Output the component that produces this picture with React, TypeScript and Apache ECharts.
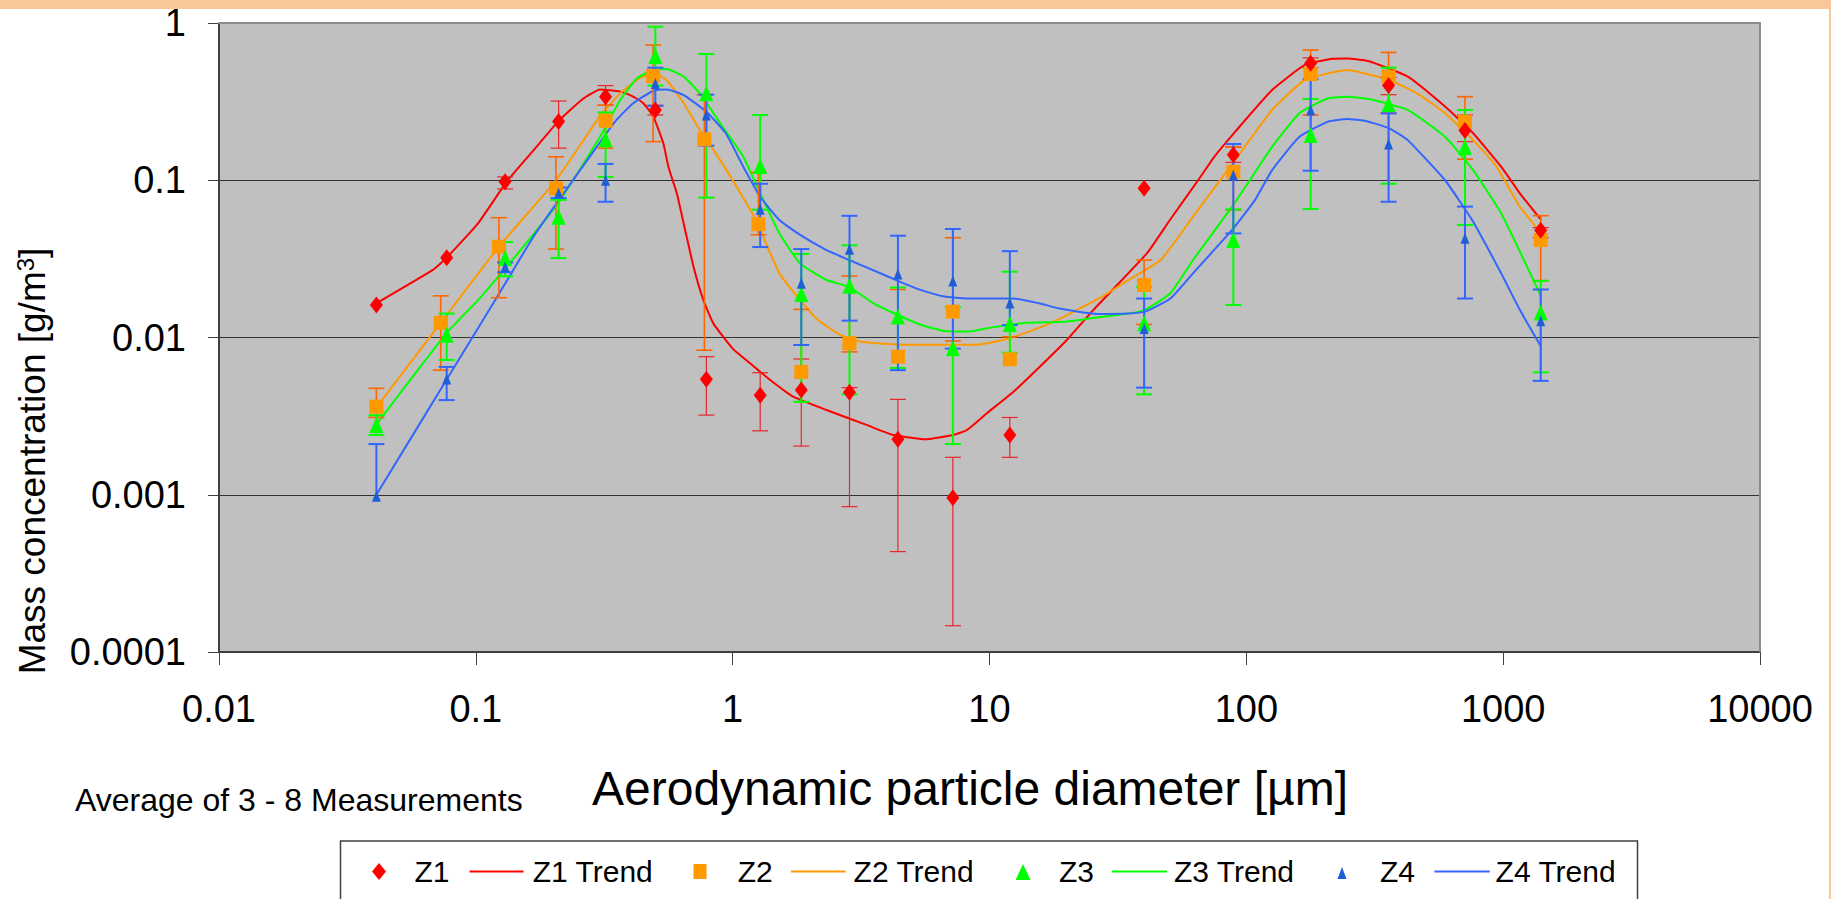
import React, { useEffect, useRef } from "react";
import * as echarts from "echarts";

const FONT = "'Liberation Sans', Arial, Helvetica, sans-serif";

// Tick labels
const xTickLabels = ["0.01", "0.1", "1", "10", "100", "1000", "10000"];
const yTickLabels = ["0.0001", "0.001", "0.01", "0.1", "1"];

// Aerodynamic particle diameter [µm] of the measurement classes
const diameters = [0.041, 0.077, 0.13, 0.21, 0.32, 0.5, 0.79, 1.28, 1.85, 2.85, 4.4, 7.2, 12, 40, 89, 178, 358, 710, 1400];
const z2Diameters = [0.041, 0.073, 0.123, 0.205, 0.32, 0.49, 0.776, 1.26, 1.85, 2.85, 4.4, 7.2, 12, 40, 89, 178, 358, 710, 1400];

// Mean mass concentration [g/m3] and error bar limits (null = not shown)
const z1Mean = [0.0161, 0.0322, 0.098, 0.236, 0.34, 0.28, 0.00542, 0.0043, 0.00464, 0.00448, 0.00225, 0.000957, 0.0024, 0.0889, 0.145, 0.554, 0.40, 0.207, 0.048];
const z1Low = [null, null, 0.088, 0.16, 0.30, 0.26, 0.00321, 0.00255, 0.00204, 0.00084, 0.000435, 0.000147, 0.00173, null, 0.13, 0.52, 0.35, 0.176, 0.043];
const z1High = [null, null, 0.105, 0.319, 0.40, 0.30, 0.00755, 0.00597, 0.0073, 0.0048, 0.00404, 0.00173, 0.0031, null, 0.163, 0.6, 0.45, 0.26, 0.05];

const z2Mean = [0.00363, 0.0124, 0.0378, 0.0888, 0.239, 0.46, 0.182, 0.0525, 0.00604, 0.0092, 0.00755, 0.0146, 0.00727, 0.0216, 0.113, 0.474, 0.456, 0.236, 0.0417];
const z2Low = [0.0031, 0.0062, 0.0179, 0.0365, 0.16, 0.176, 0.0083, 0.045, null, 0.0081, 0.0064, 0.0095, null, 0.0121, 0.0647, 0.26, 0.268, 0.136, 0.023];
const z2High = [0.00475, 0.0184, 0.0578, 0.141, 0.30, 0.724, 0.35, 0.112, 0.0151, 0.0246, 0.0202, 0.0431, 0.0101, 0.0311, 0.163, 0.673, 0.65, 0.34, 0.0595];

const z3Mean = [0.00278, 0.0104, 0.032, 0.0587, 0.182, 0.617, 0.357, 0.123, 0.0189, 0.0213, 0.0136, 0.00853, 0.0122, 0.0123, 0.0417, 0.194, 0.305, 0.163, 0.0144];
const z3Low = [0.0024, 0.0072, 0.0245, 0.032, 0.105, 0.40, 0.0775, 0.065, 0.0039, 0.00435, 0.0064, 0.0021, 0.008, 0.00435, 0.0161, 0.0656, 0.095, 0.052, 0.006];
const z3High = [0.0032, 0.0142, 0.0405, 0.075, 0.27, 0.947, 0.635, 0.26, 0.034, 0.0386, 0.0208, 0.0156, 0.0262, 0.021, 0.0653, 0.329, 0.52, 0.28, 0.0229];

const z4Mean = [0.00098, 0.00544, 0.0282, 0.083, 0.10, 0.413, 0.26, 0.0654, 0.0221, 0.0364, 0.0253, 0.0229, 0.0166, 0.0114, 0.108, 0.28, 0.17, 0.0428, 0.0128];
const z4Low = [null, 0.004, 0.026, 0.077, 0.073, 0.297, 0.166, 0.0376, 0.00896, 0.0128, 0.0062, 0.0085, 0.012, 0.0048, 0.0459, 0.115, 0.073, 0.0177, 0.0053];
const z4High = [0.0021, 0.0065, 0.030, 0.09, 0.127, 0.52, 0.35, 0.095, 0.0365, 0.0594, 0.0444, 0.049, 0.0354, 0.0177, 0.17, 0.44, 0.266, 0.068, 0.0202];

// Trend curves
const z1TrendX = [0.041, 0.068, 0.077, 0.102, 0.132, 0.166, 0.209, 0.258, 0.305, 0.365, 0.41, 0.449, 0.491, 0.537, 0.562, 0.606, 0.653, 0.704, 0.769, 0.841, 1.0, 1.17, 1.4, 1.72, 2.32, 3.32, 4.22, 5.61, 7.22, 8.17, 9.77, 12.4, 15.7, 20, 25.4, 41, 50.4, 64.9, 75, 90.6, 126, 169, 213, 247, 298, 425, 594, 764, 982, 1161, 1406];
const z1TrendY = [0.0165, 0.0269, 0.0322, 0.0532, 0.098, 0.152, 0.236, 0.324, 0.378, 0.366, 0.34, 0.309, 0.254, 0.172, 0.122, 0.0826, 0.0483, 0.0282, 0.0173, 0.0123, 0.0085, 0.00685, 0.00537, 0.00421, 0.00346, 0.00278, 0.0024, 0.00225, 0.0024, 0.00258, 0.0033, 0.00452, 0.00652, 0.00964, 0.015, 0.0343, 0.0559, 0.1, 0.141, 0.204, 0.375, 0.541, 0.59, 0.594, 0.573, 0.456, 0.294, 0.199, 0.122, 0.0826, 0.0559];

const z2TrendX = [0.041, 0.073, 0.123, 0.205, 0.305, 0.365, 0.424, 0.464, 0.51, 0.553, 0.645, 0.745, 0.842, 1.0, 1.23, 1.52, 1.83, 2.15, 2.62, 3.16, 4.49, 8.93, 12, 17.2, 27, 34.7, 46.4, 62, 90.6, 126, 169, 247, 360, 462, 594, 764, 942, 1161, 1406];
const z2TrendY = [0.0036, 0.0124, 0.0378, 0.1, 0.257, 0.357, 0.434, 0.467, 0.467, 0.434, 0.309, 0.209, 0.156, 0.1, 0.056, 0.0256, 0.0173, 0.0129, 0.0104, 0.0094, 0.009, 0.009, 0.0099, 0.0123, 0.0179, 0.0232, 0.0311, 0.0587, 0.135, 0.28, 0.434, 0.503, 0.434, 0.357, 0.267, 0.18, 0.122, 0.0679, 0.046];

const z3TrendX = [0.041, 0.077, 0.102, 0.132, 0.209, 0.305, 0.365, 0.424, 0.491, 0.553, 0.645, 0.745, 0.914, 1.1, 1.28, 1.52, 1.83, 2.32, 2.84, 3.54, 4.4, 5.43, 6.67, 8.2, 10.2, 13.9, 19.8, 27, 34.7, 40.3, 50.6, 62, 88, 126, 161, 208, 247, 304, 425, 594, 764, 982, 1406];
const z3TrendY = [0.0028, 0.0107, 0.0173, 0.0282, 0.0713, 0.19, 0.324, 0.445, 0.503, 0.51, 0.456, 0.357, 0.219, 0.141, 0.0826, 0.046, 0.0296, 0.0232, 0.021, 0.0165, 0.0139, 0.012, 0.011, 0.0109, 0.0116, 0.0124, 0.0126, 0.0135, 0.0142, 0.015, 0.0191, 0.0311, 0.0679, 0.163, 0.267, 0.332, 0.34, 0.327, 0.28, 0.189, 0.116, 0.0616, 0.0182];

const z4TrendX = [0.041, 0.077, 0.119, 0.171, 0.305, 0.353, 0.41, 0.491, 0.553, 0.645, 0.79, 0.94, 1.1, 1.28, 1.52, 1.83, 2.32, 2.84, 3.64, 4.49, 5.43, 6.67, 8.2, 12.4, 15.6, 18.7, 27, 34.7, 40.3, 50.6, 62, 88, 108, 126, 161, 208, 247, 292, 360, 425, 594, 764, 982, 1161, 1406];
const z4TrendY = [0.001, 0.0054, 0.0173, 0.046, 0.175, 0.242, 0.309, 0.371, 0.378, 0.348, 0.273, 0.199, 0.122, 0.0786, 0.0559, 0.0449, 0.036, 0.0311, 0.0262, 0.0226, 0.02, 0.0182, 0.0177, 0.0177, 0.0165, 0.0153, 0.0141, 0.0142, 0.0146, 0.0177, 0.0256, 0.0483, 0.0748, 0.116, 0.189, 0.236, 0.245, 0.238, 0.214, 0.18, 0.1, 0.0545, 0.0256, 0.015, 0.0087];

const seriesNames = ["Z1", "Z1 Trend", "Z2", "Z2 Trend", "Z3", "Z3 Trend", "Z4", "Z4 Trend"];

const COLORS = {
  z1: "#FF0000",
  z2: "#FF9900",
  z3: "#00FF00",
  z4Line: "#3366FF",
  z4Marker: "#1F5FD6",
};

const zip = (xs: number[], ys: number[]) => xs.map((x, i) => [x, ys[i]]);
const errData = (xs: number[], mean: number[], lo: (number | null)[], hi: (number | null)[]) =>
  xs.map((x, i) => [x, mean[i], lo[i] == null ? -1 : lo[i], hi[i] == null ? -1 : hi[i]]);

const makeErr = (color: string, width: number) => (params: any, api: any) => {
  const x = api.value(0);
  const m = api.value(1);
  const lo = api.value(2);
  const hi = api.value(3);
  const pm = api.coord([x, m]);
  const top = hi > 0 ? api.coord([x, hi]) : pm;
  const bot = lo > 0 ? api.coord([x, lo]) : pm;
  const cap = 8;
  const style = { stroke: color, lineWidth: width };
  const children: any[] = [
    { type: "line", shape: { x1: top[0], y1: top[1], x2: bot[0], y2: bot[1] }, style },
  ];
  if (hi > 0) children.push({ type: "line", shape: { x1: top[0] - cap, y1: top[1], x2: top[0] + cap, y2: top[1] }, style });
  if (lo > 0) children.push({ type: "line", shape: { x1: bot[0] - cap, y1: bot[1], x2: bot[0] + cap, y2: bot[1] }, style });
  return { type: "group", children };
};

const trend = (name: string, xs: number[], ys: number[], color: string) => ({
  name,
  type: "line",
  data: zip(xs, ys),
  showSymbol: false,
  symbol: "none",
  smooth: 0.15,
  lineStyle: { color, width: 2 },
  itemStyle: { color },
  z: 2,
  silent: true,
});

const markers = (name: string, xs: number[], ys: number[], symbol: string, size: number[], color: string, z: number) => ({
  name,
  type: "scatter",
  data: zip(xs, ys),
  symbol,
  symbolSize: size,
  itemStyle: { color, opacity: 1 },
  z,
  silent: true,
});

const errors = (name: string, xs: number[], mean: number[], lo: (number | null)[], hi: (number | null)[], color: string, width: number) => ({
  name,
  type: "custom",
  data: errData(xs, mean, lo, hi),
  renderItem: makeErr(color, width),
  encode: { x: 0, y: 1 },
  z: 3,
  silent: true,
});

// Legend drawn as graphic elements (layout only)
const LY = 871.5;
const legendText = (text: string, x: number) => ({
  type: "text",
  x,
  y: LY - 0.5,
  style: {
    text,
    fontSize: 30,
    fontFamily: FONT,
    fill: "#000",
    align: "left",
    textAlign: "left",
    verticalAlign: "middle",
    textVerticalAlign: "middle",
  },
});
const legendLine = (x1: number, x2: number, color: string) => ({
  type: "line",
  shape: { x1, y1: LY, x2, y2: LY },
  style: { stroke: color, lineWidth: 2 },
});

const legendGraphics: any[] = [
  { type: "rect", shape: { x: 340.5, y: 841, width: 1297, height: 75 }, style: { fill: "#ffffff", stroke: "#404040", lineWidth: 1.5 } },
  { type: "polygon", shape: { points: [[379, 863], [386, LY], [379, 880], [372, LY]] }, style: { fill: COLORS.z1 } },
  legendText(seriesNames[0], 414.5),
  legendLine(469.6, 523.5, COLORS.z1),
  legendText(seriesNames[1], 532.7),
  { type: "rect", shape: { x: 693.5, y: 864, width: 13, height: 15 }, style: { fill: COLORS.z2 } },
  legendText(seriesNames[2], 737.7),
  legendLine(791, 845.6, COLORS.z2),
  legendText(seriesNames[3], 853.6),
  { type: "polygon", shape: { points: [[1023, 864], [1030.5, 880], [1015.5, 880]] }, style: { fill: COLORS.z3 } },
  legendText(seriesNames[4], 1059),
  legendLine(1112, 1167, COLORS.z3),
  legendText(seriesNames[5], 1174),
  { type: "polygon", shape: { points: [[1342, 867], [1346.5, 879], [1337.5, 879]] }, style: { fill: COLORS.z4Marker } },
  legendText(seriesNames[6], 1380),
  legendLine(1434.4, 1489.7, COLORS.z4Line),
  legendText(seriesNames[7], 1495.6),
];

export default function App() {
  const ref = useRef<HTMLDivElement>(null);
  useEffect(() => {
    document.body.style.margin = "0";
    const chart = echarts.init(ref.current as HTMLDivElement, null, { renderer: "svg" });
    const option: any = {
      animation: false,
      backgroundColor: "#ffffff",
      grid: {
        left: 219,
        top: 23,
        width: 1541,
        height: 629,
        show: true,
        backgroundColor: "#C0C0C0",
        borderColor: "#8c8c8c",
        borderWidth: 2,
        containLabel: false,
        outerBoundsMode: "none",
      },
      xAxis: {
        type: "log",
        logBase: 10,
        min: 0.01,
        max: 10000,
        axisLine: { show: true, lineStyle: { color: "#404040", width: 2 } },
        axisTick: { show: true, inside: false, length: 13, lineStyle: { color: "#404040", width: 1 } },
        axisLabel: {
          margin: 38,
          fontSize: 38,
          fontFamily: FONT,
          color: "#000",
          formatter: (v: number) => xTickLabels[Math.round(Math.log10(v)) + 2],
        },
        splitLine: { show: false },
        minorTick: { show: false },
      },
      yAxis: {
        type: "log",
        logBase: 10,
        min: 0.0001,
        max: 1,
        axisLine: { show: true, lineStyle: { color: "#404040", width: 2 } },
        axisTick: { show: true, inside: false, length: 11, lineStyle: { color: "#404040", width: 1 } },
        axisLabel: {
          margin: 33,
          fontSize: 38,
          fontFamily: FONT,
          color: "#000",
          formatter: (v: number) => yTickLabels[Math.round(Math.log10(v)) + 4],
        },
        splitLine: { show: true, lineStyle: { color: "#333333", width: 1.2 } },
        minorTick: { show: false },
      },
      graphic: [
        { type: "rect", shape: { x: 0, y: 0, width: 1831, height: 9 }, style: { fill: "#F9C89A" }, z: 10 },
        { type: "rect", shape: { x: 1829, y: 0, width: 2, height: 899 }, style: { fill: "#F9C89A" }, z: 10 },
        { type: "line", shape: { x1: 218, y1: 23, x2: 1761, y2: 23 }, style: { stroke: "#8c8c8c", lineWidth: 2 }, z: 100 },
        { type: "line", shape: { x1: 1760, y1: 22, x2: 1760, y2: 652 }, style: { stroke: "#8c8c8c", lineWidth: 2 }, z: 100 },
        {
          type: "text",
          x: 32,
          y: 461,
          rotation: Math.PI / 2,
          style: {
            text: "{a|Mass concentration [g/m}{s|3}{a|]}",
            rich: {
              a: { fontSize: 37, fontFamily: FONT, fill: "#000", color: "#000" },
              s: { fontSize: 24, fontFamily: FONT, fill: "#000", color: "#000", verticalAlign: "top" },
            },
            align: "center",
            textAlign: "center",
            verticalAlign: "middle",
            textVerticalAlign: "middle",
          },
        },
        {
          type: "text",
          x: 970,
          y: 788,
          style: {
            text: "Aerodynamic particle diameter [µm]",
            fontSize: 48,
            fontFamily: FONT,
            fill: "#000",
            align: "center",
            textAlign: "center",
            verticalAlign: "middle",
            textVerticalAlign: "middle",
          },
        },
        {
          type: "text",
          x: 75,
          y: 800,
          style: {
            text: "Average of 3 - 8 Measurements",
            fontSize: 32,
            fontFamily: FONT,
            fill: "#000",
            align: "left",
            textAlign: "left",
            verticalAlign: "middle",
            textVerticalAlign: "middle",
          },
        },
        { type: "group", children: legendGraphics },
      ],
      series: [
        trend("Z1 Trend", z1TrendX, z1TrendY, COLORS.z1),
        trend("Z2 Trend", z2TrendX, z2TrendY, COLORS.z2),
        trend("Z3 Trend", z3TrendX, z3TrendY, COLORS.z3),
        trend("Z4 Trend", z4TrendX, z4TrendY, COLORS.z4Line),
        errors("Z1 error", diameters, z1Mean, z1Low, z1High, "#E8262B", 1.2),
        errors("Z2 error", z2Diameters, z2Mean, z2Low, z2High, "#FF6600", 1.6),
        errors("Z3 error", diameters, z3Mean, z3Low, z3High, COLORS.z3, 2),
        errors("Z4 error", diameters, z4Mean, z4Low, z4High, COLORS.z4Line, 2),
        markers("Z1", diameters, z1Mean, "diamond", [13, 17], COLORS.z1, 6),
        markers("Z2", z2Diameters, z2Mean, "rect", [14, 14], COLORS.z2, 5),
        markers("Z3", diameters, z3Mean, "triangle", [14, 16], COLORS.z3, 5),
        markers("Z4", diameters, z4Mean, "triangle", [9, 11], COLORS.z4Marker, 5),
      ],
    };
    chart.setOption(option);
    return () => chart.dispose();
  }, []);
  return (
    <div
      ref={ref}
      style={{ width: 1831, height: 899, position: "fixed", left: 0, top: 0, background: "#fff" }}
    />
  );
}
